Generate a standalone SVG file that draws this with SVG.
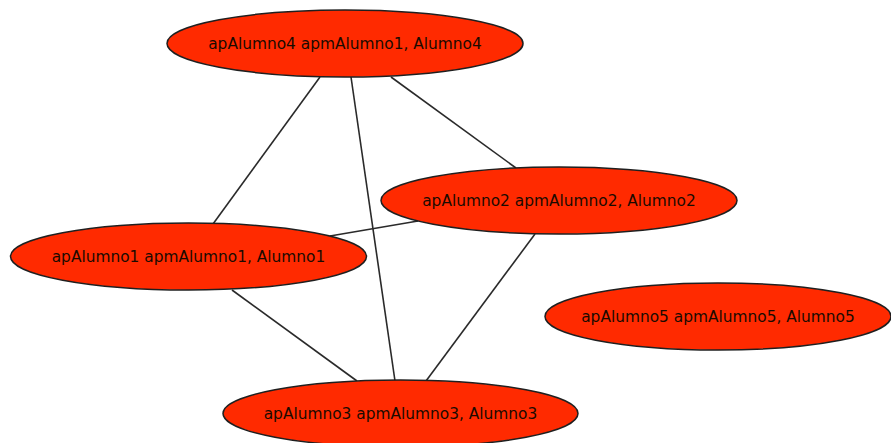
<svg xmlns="http://www.w3.org/2000/svg" width="891" height="443" viewBox="0 0 891 443">
  <style>
    .node ellipse { fill: #ff2a00; stroke: #1f1f1f; stroke-width: 1.5; }
    .node text { font-family: "DejaVu Sans", sans-serif; font-size: 15.4px; fill: #1a0a00; text-anchor: middle; }
    #edges line { stroke: #2a2a2a; stroke-width: 1.6; }
  </style>
  <rect width="891" height="443" fill="#ffffff"/>
  <g id="edges">
    <line x1="320" y1="77" x2="213" y2="224"/>
    <line x1="351" y1="77" x2="395" y2="381"/>
    <line x1="391" y1="77" x2="516" y2="168"/>
    <line x1="418" y1="221" x2="330" y2="236"/>
    <line x1="232" y1="290" x2="357" y2="381"/>
    <line x1="535" y1="234" x2="426" y2="381"/>
  </g>
  <g id="n4" class="node">
    <ellipse cx="345" cy="43.5" rx="178" ry="33.5"/>
    <text x="345" y="49">apAlumno4 apmAlumno1, Alumno4</text>
  </g>
  <g id="n2" class="node">
    <ellipse cx="559" cy="200.5" rx="178" ry="33.5"/>
    <text x="559" y="206">apAlumno2 apmAlumno2, Alumno2</text>
  </g>
  <g id="n1" class="node">
    <ellipse cx="188.5" cy="256.5" rx="178" ry="33.5"/>
    <text x="188.5" y="262">apAlumno1 apmAlumno1, Alumno1</text>
  </g>
  <g id="n5" class="node">
    <ellipse cx="718" cy="316.5" rx="173" ry="33.5"/>
    <text x="718" y="322">apAlumno5 apmAlumno5, Alumno5</text>
  </g>
  <g id="n3" class="node">
    <ellipse cx="400.5" cy="413.5" rx="177.5" ry="33.5"/>
    <text x="400.5" y="419">apAlumno3 apmAlumno3, Alumno3</text>
  </g>
</svg>
